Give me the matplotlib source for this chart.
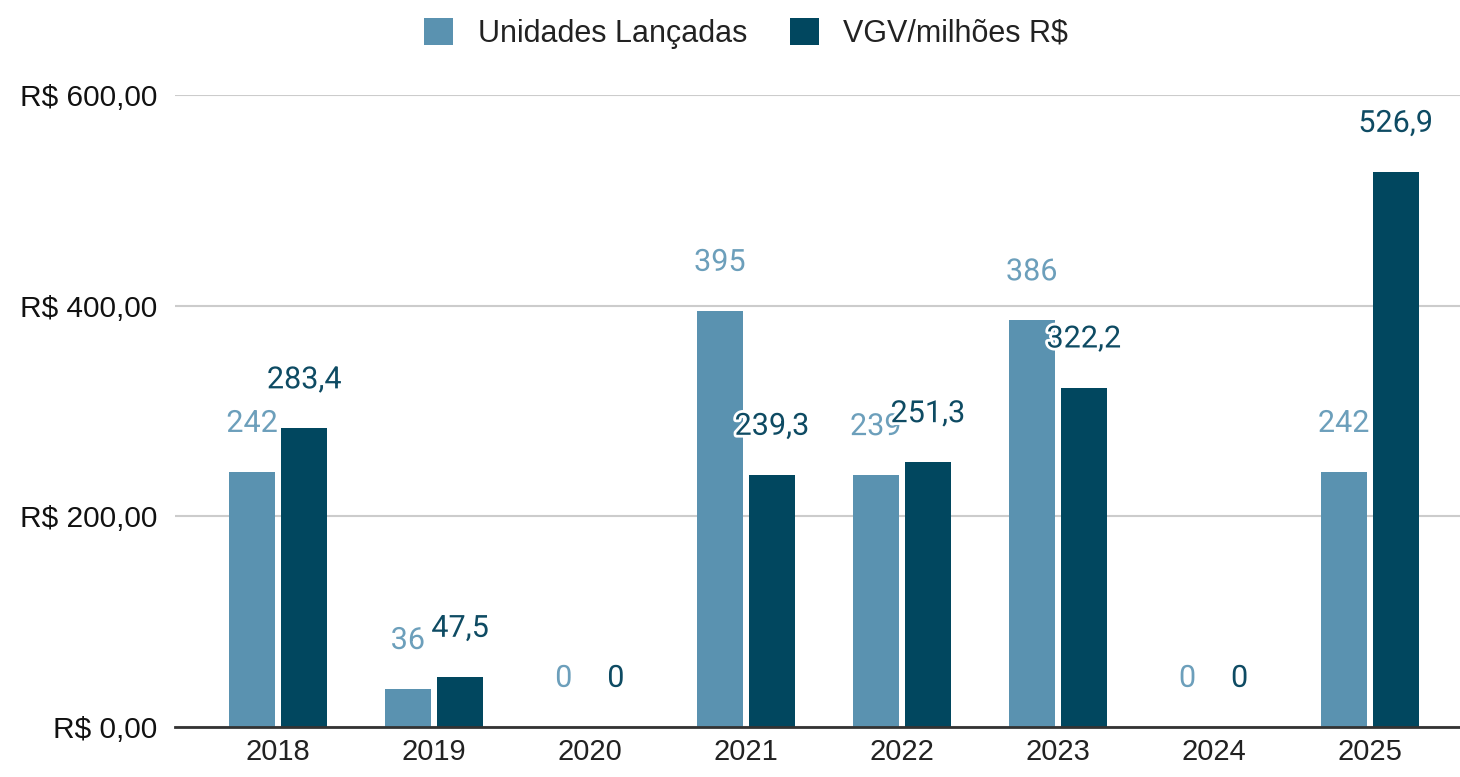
import matplotlib.pyplot as plt
import matplotlib.patheffects as pe
import numpy as np

plt.rcParams['font.family'] = ['Liberation Sans', 'DejaVu Sans']

anos = ['2018', '2019', '2020', '2021', '2022', '2023', '2024', '2025']
unidades = [242, 36, 0, 395, 239, 386, 0, 242]
vgv = [283.4, 47.5, 0, 239.3, 251.3, 322.2, 0, 526.9]
rotulos_vgv = ['283,4', '47,5', '0', '239,3', '251,3', '322,2', '0', '526,9']
yticks = [0, 200, 400, 600]

cor_clara = '#5a92b0'
cor_escura = '#01475f'
cor_rot_clara = '#6c9fbb'
cor_rot_escura = '#0e4b63'

fig = plt.figure(figsize=(14.6, 7.77), dpi=100)
ax = fig.add_axes([0.1199, 0.0644, 0.8801, 0.8133])

x = np.arange(len(anos))
w = 0.295
d = 0.167
b1 = ax.bar(x - d, unidades, w, color=cor_clara, label='Unidades Lançadas', zorder=2)
b2 = ax.bar(x + d, vgv, w, color=cor_escura, label='VGV/milhões R$', zorder=2)

# rótulos em Roboto, com contorno branco
halo = [pe.withStroke(linewidth=4, foreground='white')]
fonte_rot = ['Roboto', 'DejaVu Sans']
for xi, v in zip(x, unidades):
    ax.annotate(str(v), (xi - d, v), xytext=(0, 35), textcoords='offset points',
                ha='center', va='center', fontsize=22, color=cor_rot_clara,
                family=fonte_rot, path_effects=halo, zorder=3)
for xi, v, s in zip(x, vgv, rotulos_vgv):
    ax.annotate(s, (xi + d, v), xytext=(0, 35), textcoords='offset points',
                ha='center', va='center', fontsize=22, color=cor_rot_escura,
                family=fonte_rot, path_effects=halo, zorder=4)

ax.set_xlim(-0.66, 7.58)
ax.set_ylim(0, 600)
ax.set_xticks(x)
ax.set_xticklabels(anos, fontsize=21, color='#222222')
ax.set_yticks(yticks)
ax.set_yticklabels([f'R$ {v:.2f}'.replace('.', ',') for v in yticks], fontsize=21.5, color='#111111')
ax.tick_params(axis='both', length=0)
ax.tick_params(axis='y', pad=13)
ax.tick_params(axis='x', pad=8)
ax.grid(axis='y', color='#cccccc', linewidth=1.5, zorder=0)
ax.set_axisbelow(True)
for s in ['top', 'right', 'left']:
    ax.spines[s].set_visible(False)
ax.spines['bottom'].set_color('#333333')
ax.spines['bottom'].set_linewidth(2)
ax.spines['bottom'].set_zorder(5)

fig.legend(handles=[b1, b2], loc='upper center', bbox_to_anchor=(0.511, 1.012), ncol=2,
           frameon=False, fontsize=22, handlelength=0.95, handleheight=0.95,
           handletextpad=0.8, columnspacing=1.4, labelcolor='#222222')

fig.savefig('out.png', dpi=100)
